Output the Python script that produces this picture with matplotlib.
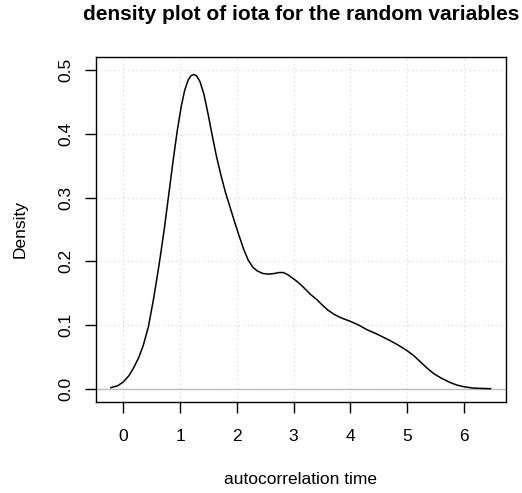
import matplotlib
matplotlib.use('Agg')
import matplotlib.pyplot as plt
import numpy as np

# density estimate
iota_x = [-0.22, -0.1, 0.0, 0.1, 0.18, 0.27, 0.35, 0.44, 0.53, 0.63, 0.72, 0.8,
          0.88, 0.95, 1.02, 1.08, 1.14, 1.19, 1.24, 1.29, 1.35, 1.42, 1.5, 1.56,
          1.64, 1.72, 1.8, 1.88, 1.96, 2.04, 2.12, 2.2, 2.28, 2.36, 2.46, 2.56,
          2.66, 2.74, 2.82, 2.9, 2.96, 3.04, 3.12, 3.2, 3.3, 3.41, 3.5, 3.6, 3.71,
          3.85, 4.0, 4.15, 4.29, 4.47, 4.65, 4.82, 5.0, 5.12, 5.24, 5.36, 5.47,
          5.6, 5.76, 5.88, 6.0, 6.15, 6.3, 6.47]
iota_density = [0.002, 0.005, 0.011, 0.021, 0.033, 0.049, 0.068, 0.097, 0.140, 0.195,
                0.250, 0.305, 0.360, 0.405, 0.443, 0.468, 0.484, 0.491, 0.493, 0.491,
                0.482, 0.462, 0.428, 0.400, 0.365, 0.335, 0.308, 0.285, 0.262, 0.240,
                0.219, 0.202, 0.191, 0.185, 0.181, 0.180, 0.181, 0.1825, 0.1825, 0.179,
                0.175, 0.170, 0.164, 0.157, 0.148, 0.140, 0.132, 0.124, 0.117, 0.111,
                0.106, 0.100, 0.093, 0.086, 0.078, 0.070, 0.060, 0.052, 0.042, 0.032,
                0.024, 0.017, 0.010, 0.006, 0.0035, 0.0015, 0.0008, 0.0004]
x_ticks = [0, 1, 2, 3, 4, 5, 6]
y_ticks = [0.0, 0.1, 0.2, 0.3, 0.4, 0.5]

plt.rcParams['font.family'] = ['Liberation Sans', 'DejaVu Sans']

fig = plt.figure(figsize=(5.22, 4.93), dpi=100)
ax = fig.add_axes([0.1833, 0.1852, 0.7855, 0.6986])

# grid like R's grid()
for t in x_ticks:
    ax.axvline(t, color='#D3D3D3', lw=0.8, ls=(0, (1, 3)), zorder=0)
for t in y_ticks:
    ax.axhline(t, color='#D3D3D3', lw=0.8, ls=(0, (1, 3)), zorder=0)
ax.axhline(0, color='#BEBEBE', lw=1.0, zorder=1)

ax.plot(iota_x, iota_density, color='black', lw=1.1, zorder=2)
ax.margins(x=0.04, y=0.04)

ax.set_xticks(x_ticks)
ax.set_yticks(y_ticks)
ax.set_yticklabels(['%.1f' % v for v in y_ticks], rotation=90, va='center')
ax.tick_params(direction='out', length=8, width=1.0, labelsize=12.5)
ax.tick_params(axis='x', pad=12)
ax.tick_params(axis='y', pad=8)
for s in ax.spines.values():
    s.set_linewidth(1.0)

ax.set_xlabel('autocorrelation time', fontsize=12.5, labelpad=20)
ax.set_ylabel('Density', fontsize=12.5, labelpad=22)
ax.set_title('density plot of iota for the random variables', fontsize=15,
             fontweight='bold', pad=27)

fig.savefig('out.png', dpi=100)
